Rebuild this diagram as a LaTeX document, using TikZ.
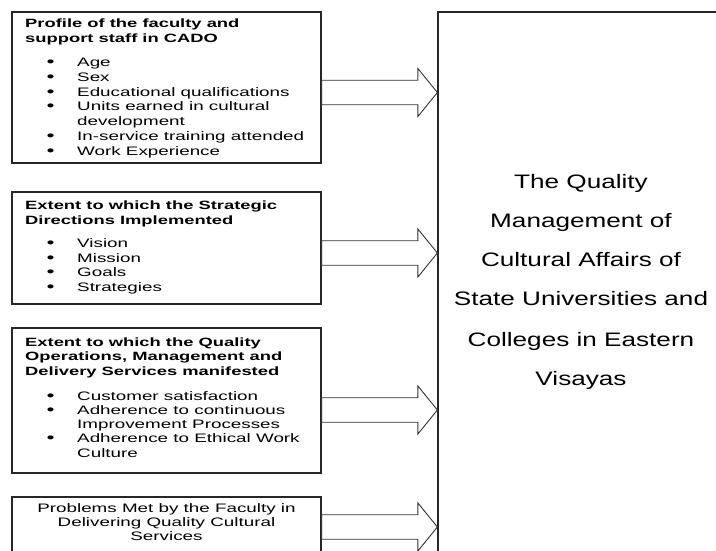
\documentclass[tikz,border=0pt]{standalone}
\usepackage{fontspec}
\newfontfamily\boxfont[FakeStretch=1.53]{Liberation Sans}
\newfontfamily\bigfont[FakeStretch=1.34]{Liberation Sans}
\usetikzlibrary{calc}
\begin{document}
\begin{tikzpicture}[x=1pt,y=-1pt,
  box/.style={draw=black!85, line width=1.2pt, minimum width=309pt, inner sep=0pt},
  bigbox/.style={draw=black!85, line width=1.2pt, minimum width=286pt, minimum height=688pt, inner sep=0pt},
  txt/.style={anchor=base west, inner sep=0pt, font=\boxfont\fontsize{12.3}{14}\selectfont},
  hd/.style={anchor=base west, inner sep=0pt, font=\boxfont\bfseries\fontsize{12}{14}\selectfont},
  ctxt/.style={anchor=base, inner sep=0pt, font=\boxfont\fontsize{12.3}{14}\selectfont},
  bul/.style={anchor=base, inner sep=0pt, font=\boxfont\bfseries\fontsize{14}{14}\selectfont},
  big/.style={anchor=base, inner sep=0pt, font=\bigfont\fontsize{19.5}{22}\selectfont},
  fat/.style={draw=black!80, line width=0.9pt, fill=white, line join=miter}]
\useasboundingbox (0,0) rectangle (716,551);
\clip (0,0) rectangle (716,551);
\fill[white] (0,0) rectangle (716,551);

% boxes
\node[box, minimum height=151pt] (b1) at (166.5,87.5) {};
\node[box, minimum height=112pt] (b2) at (166.5,248) {};
\node[box, minimum height=145pt] (b3) at (166.5,400.5) {};
\node[box, minimum height=120pt] (b4) at (166.5,557) {};
\node[bigbox] (R) at (581,356) {};

% box 1
\node[hd] (h11) at (25,28) {Profile of the faculty and};
\node[hd] (h12) at (25,42.5) {support staff in CADO};
\foreach \y/\t [count=\i] in {67/Age, 82/Sex, 96.5/Educational qualifications, 111/Units earned in cultural, 140.5/In-service training attended, 155/Work Experience}{
  \node[bul] (p1b\i) at (50.5,\y) {•};
  \node[txt] (p1t\i) at (77,\y) {\t};
}
\node[txt] (p1x) at (77,125.5) {development};

% box 2
\node[hd] (h21) at (25,209) {Extent to which the  Strategic};
\node[hd] (h22) at (25,224) {Directions Implemented};
\foreach \y/\t [count=\i] in {247/Vision, 262/Mission, 276.5/Goals, 291/Strategies}{
  \node[bul] (p2b\i) at (50.5,\y) {•};
  \node[txt] (p2t\i) at (77,\y) {\t};
}

% box 3
\node[hd] (h31) at (25,346) {Extent to which the  Quality};
\node[hd] (h32) at (25,360.5) {Operations, Management and};
\node[hd] (h33) at (25,375) {Delivery Services manifested};
\foreach \y/\t [count=\i] in {400/Customer satisfaction, 414/Adherence to continuous, 442/Adherence to Ethical Work}{
  \node[bul] (p3b\i) at (50.5,\y) {•};
  \node[txt] (p3t\i) at (77,\y) {\t};
}
\node[txt] (p3x1) at (77,428) {Improvement Processes};
\node[txt] (p3x2) at (77,457) {Culture};

% box 4
\node[ctxt] (p41) at (166.5,512) {Problems Met by the Faculty in};
\node[ctxt] (p42) at (166.5,526) {Delivering Quality Cultural};
\node[ctxt] (p43) at (166.5,540.5) {Services};

% right box text
\foreach \y/\t [count=\i] in {189/The Quality, 227/Management of, 266.5/Cultural Affairs of, 305.5/State Universities  and, 346/Colleges in Eastern, 385/Visayas}{
  \node[big] (r\i) at (581,\y) {\t};
}

% block arrows
\foreach \b/\y in {b1/92.5, b2/253, b3/410, b4/527}{
  \coordinate (s\b) at (\b.east |- 0,\y);
  \coordinate (e\b) at (R.west |- 0,\y);
  \draw[fat] ($(s\b)+(0,-12.25)$) -- ($(e\b)+(-19.5,-12.25)$) -- ($(e\b)+(-19.5,-24)$)
    -- (e\b) -- ($(e\b)+(-19.5,24)$) -- ($(e\b)+(-19.5,12.25)$) -- ($(s\b)+(0,12.25)$) -- cycle;
}
\end{tikzpicture}
\end{document}
